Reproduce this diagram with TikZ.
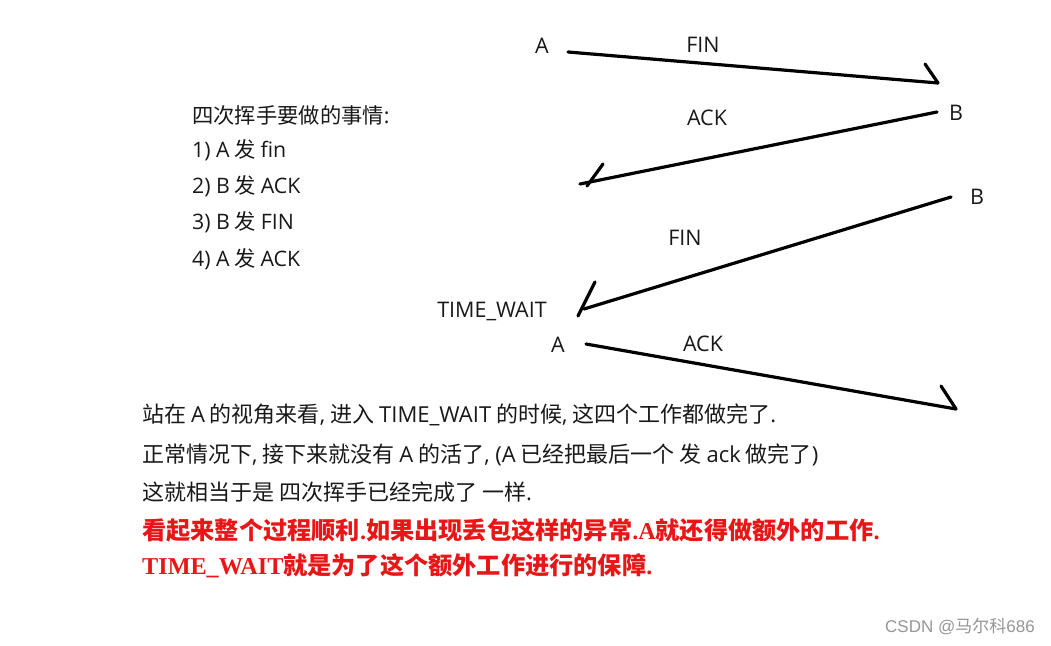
\documentclass[tikz,border=0pt]{standalone}
\usepackage{fontspec}
\setmainfont{Noto Sans CJK SC}
\newfontfamily\latf{Open Sans}
\newfontfamily\serf{Liberation Serif}
\newfontfamily\wmf{Liberation Sans}
\newcommand\enx[1]{{\latf #1}}
\newcommand\srx[1]{{\serf\bfseries #1}}
\definecolor{redtxt}{RGB}{232,22,22}
\definecolor{wmgray}{RGB}{150,150,150}
\definecolor{ink}{RGB}{25,25,25}
\tikzset{
  lbl/.style={inner sep=0pt, text=ink, font=\latf\fontsize{21.5}{25}\selectfont},
  txt/.style={anchor=west, inner sep=0pt, text=ink, font=\fontsize{21.3}{25}\selectfont},
  para/.style={txt, font=\fontsize{22}{26}\selectfont},
  redline/.style={anchor=west, inner sep=0pt, text=redtxt, font=\bfseries\fontsize{24.2}{28}\selectfont},
  msg/.style={line width=3.2pt, line cap=round, line join=round},
  wmark/.style={anchor=west, inner sep=0pt, text=wmgray, font=\fontsize{17}{20}\selectfont}
}
\begin{document}
\begin{tikzpicture}[x=1pt,y=-1pt]
\useasboundingbox (0,0) rectangle (1051,645);
\fill[white] (0,0) rectangle (1051,645);
% endpoint labels
\node[lbl] (A1) at (542,46) {A};
\node[lbl] (B1) at (956,113) {B};
\node[lbl] (B2) at (977,197) {B};
\node[lbl] (A2) at (558,345) {A};
\node[lbl] (tw) at (492,311) {TIME\_WAIT};
% message labels
\node[lbl] (m1) at (703,45) {FIN};
\node[lbl] (m2) at (707,118) {ACK};
\node[lbl] (m3) at (685,238) {FIN};
\node[lbl] (m4) at (703,344) {ACK};
% connector end points
\coordinate (s1) at (568,52);  \coordinate (e1) at (938,83);  \coordinate (b1) at (925,64);
\coordinate (s2) at (937,112); \coordinate (e2) at (580,184); \coordinate (b2) at (603,164); \coordinate (c2) at (587,186);
\coordinate (s3) at (951,197); \coordinate (e3) at (584,309); \coordinate (b3) at (595,282); \coordinate (c3) at (578,316);
\coordinate (s4) at (586,344); \coordinate (e4) at (956,409); \coordinate (b4) at (941,386);
\draw[msg] (s1) -- (e1); \draw[msg] (b1) -- (e1);
\draw[msg] (s2) -- (e2); \draw[msg] (b2) -- (c2);
\draw[msg] (s3) -- (e3); \draw[msg] (b3) -- (c3);
\draw[msg] (s4) -- (e4); \draw[msg] (b4) -- (e4);
% list
\node[txt] (h)  at (192,115) {四次挥手要做的事情\enx{:}};
\node[txt] (l1) at (192,150) {\enx{1) A} 发 \enx{fin}};
\node[txt] (l2) at (192,186) {\enx{2) B} 发 \enx{ACK}};
\node[txt] (l3) at (192,222) {\enx{3) B} 发 \enx{FIN}};
\node[txt] (l4) at (192,259) {\enx{4) A} 发 \enx{ACK}};
% paragraph
\node[para] (p1) at (142,415) {站在 \enx{A} 的视角来看\enx{,} 进入 \enx{TIME\_WAIT} 的时候\enx{,} 这四个工作都做完了\enx{.}};
\node[para] (p2) at (142,455) {正常情况下\enx{,} 接下来就没有 \enx{A} 的活了\enx{, (A} 已经把最后一个 发 \enx{ack} 做完了\enx{)}};
\node[para] (p3) at (142,492) {这就相当于是 四次挥手已经完成了 一样\enx{.}};
\node[redline] (r1) at (142,530) {看起来整个过程顺利\srx{.}如果出现丢包这样的异常\srx{.A}就还得做额外的工作\srx{.}};
\node[redline] (r2) at (142,566) {\srx{TIME\_WAIT}就是为了这个额外工作进行的保障\srx{.}};
% watermark
\node[wmark] (wm) at (885,627) {{\wmf CSDN @}马尔科{\wmf 686}};
\end{tikzpicture}
\end{document}
